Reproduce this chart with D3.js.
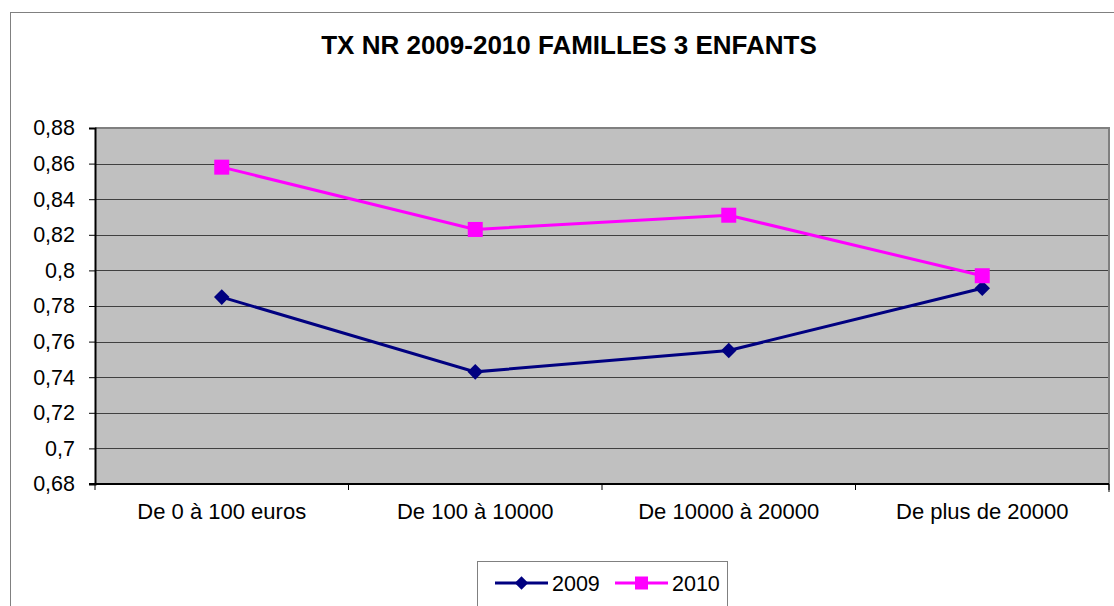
<!DOCTYPE html>
<html>
<head>
<meta charset="utf-8">
<script src="https://cdn.jsdelivr.net/npm/d3@7"></script>
<style>
  html, body { margin: 0; padding: 0; background: #fff; }
  svg { display: block; font-family: "Liberation Sans", Arial, sans-serif; }
</style>
</head>
<body>
<svg id="chart" width="1114" height="606"></svg>
<script>
const title = "TX NR 2009-2010 FAMILLES 3 ENFANTS";
const categories = ["De 0 à 100 euros", "De 100 à 10000", "De 10000 à 20000", "De plus de 20000"];
const seriesNames = ["2009", "2010"];
const values2009 = [0.785, 0.743, 0.755, 0.790];
const values2010 = [0.858, 0.823, 0.831, 0.797];
const yTicks = [0.68, 0.70, 0.72, 0.74, 0.76, 0.78, 0.80, 0.82, 0.84, 0.86, 0.88];
const yTickLabels = ["0,68", "0,7", "0,72", "0,74", "0,76", "0,78", "0,8", "0,82", "0,84", "0,86", "0,88"];

const series = [
  { name: seriesNames[0], values: values2009, color: "#000080", marker: "diamond" },
  { name: seriesNames[1], values: values2010, color: "#FF00FF", marker: "square" }
];

const svg = d3.select("#chart");
const plot = { left: 95, top: 128, right: 1109, bottom: 484 };

// outer chart border
svg.append("rect").attr("x", 10.5).attr("y", 12.5).attr("width", 1200).attr("height", 700)
  .attr("fill", "#fff").attr("stroke", "#808080").attr("stroke-width", 1);

// title
svg.append("text").attr("x", 569).attr("y", 54).attr("text-anchor", "middle")
  .attr("font-size", 26).attr("font-weight", "bold").attr("fill", "#000").text(title);

const x = d3.scaleBand().domain(categories).range([plot.left, plot.right]).paddingInner(0).paddingOuter(0);
const y = d3.scaleLinear().domain([0.68, 0.88]).range([plot.bottom, plot.top]);

// plot background
svg.append("rect").attr("x", plot.left).attr("y", plot.top)
  .attr("width", plot.right - plot.left).attr("height", plot.bottom - plot.top)
  .attr("fill", "#C0C0C0");

// gridlines
svg.append("g").selectAll("line").data(yTicks.slice(1, -1)).join("line")
  .attr("x1", plot.left).attr("x2", plot.right)
  .attr("y1", d => Math.round(y(d)) + 0.5).attr("y2", d => Math.round(y(d)) + 0.5)
  .attr("stroke", "#404040").attr("stroke-width", 1);

// top and right borders of plot
svg.append("line").attr("x1", plot.left).attr("x2", plot.right + 1).attr("y1", plot.top).attr("y2", plot.top)
  .attr("stroke", "#808080").attr("stroke-width", 2);
svg.append("line").attr("x1", plot.right).attr("x2", plot.right).attr("y1", plot.top).attr("y2", plot.bottom + 8)
  .attr("stroke", "#808080").attr("stroke-width", 2);

// y axis
const yAxis = d3.axisLeft(y).tickValues(yTicks).tickSize(6).tickPadding(14)
  .tickFormat((d, i) => yTickLabels[i]);
const gy = svg.append("g").attr("transform", `translate(${plot.left},0)`).call(yAxis);
gy.select(".domain").attr("stroke", "#000").attr("stroke-width", 2);
gy.selectAll(".tick line").attr("stroke", "#000").attr("stroke-width", 1);
gy.selectAll(".tick text").attr("font-size", 21.5).attr("fill", "#000")
  .attr("font-family", "Liberation Sans, Arial, sans-serif");

// x axis with ticks at category boundaries
const gx = svg.append("g").attr("transform", `translate(0,${plot.bottom})`);
gx.append("line").attr("x1", plot.left - 6).attr("x2", plot.right).attr("y1", 0).attr("y2", 0)
  .attr("stroke", "#000").attr("stroke-width", 2);
const bounds = categories.map(c => x(c)).concat([x(categories[categories.length - 1]) + x.bandwidth()]);
gx.selectAll("line.tk").data(bounds).join("line").attr("class", "tk")
  .attr("x1", d => d).attr("x2", d => d).attr("y1", 0).attr("y2", 6)
  .attr("stroke", "#000").attr("stroke-width", 1);
gx.selectAll("text").data(categories).join("text")
  .attr("x", d => x(d) + x.bandwidth() / 2).attr("y", 35)
  .attr("text-anchor", "middle").attr("font-size", 22).attr("fill", "#000").text(d => d);

const cx = c => x(c) + x.bandwidth() / 2;
const line = d3.line().x((d, i) => cx(categories[i])).y(d => y(d));

series.forEach(s => {
  const g = svg.append("g");
  g.append("path").datum(s.values).attr("d", line)
    .attr("fill", "none").attr("stroke", s.color).attr("stroke-width", 3);
  if (s.marker === "square") {
    g.selectAll("rect").data(s.values).join("rect")
      .attr("x", (d, i) => cx(categories[i]) - 7.5).attr("y", d => y(d) - 7.5)
      .attr("width", 15).attr("height", 15).attr("fill", s.color);
  } else {
    g.selectAll("path.m").data(s.values).join("path").attr("class", "m")
      .attr("d", d3.symbol().type(d3.symbolSquare).size(121)())
      .attr("transform", (d, i) => `translate(${cx(categories[i])},${y(d)}) rotate(45)`)
      .attr("fill", s.color);
  }
});

// legend
const lg = svg.append("g");
lg.append("rect").attr("x", 477.5).attr("y", 561.5).attr("width", 250).attr("height", 80)
  .attr("fill", "#fff").attr("stroke", "#808080").attr("stroke-width", 1);
const legendX = [495, 615];
series.forEach((s, i) => {
  const lx = legendX[i], ly = 583;
  lg.append("line").attr("x1", lx).attr("x2", lx + 53).attr("y1", ly).attr("y2", ly)
    .attr("stroke", s.color).attr("stroke-width", 3);
  if (s.marker === "square") {
    lg.append("rect").attr("x", lx + 26.5 - 6.5).attr("y", ly - 6.5).attr("width", 13).attr("height", 13).attr("fill", s.color);
  } else {
    lg.append("path").attr("d", d3.symbol().type(d3.symbolSquare).size(90)())
      .attr("transform", `translate(${lx + 26.5},${ly}) rotate(45)`).attr("fill", s.color);
  }
  lg.append("text").attr("x", lx + 57).attr("y", ly + 8).attr("font-size", 21.5).attr("fill", "#000").text(s.name);
});
</script>
</body>
</html>
